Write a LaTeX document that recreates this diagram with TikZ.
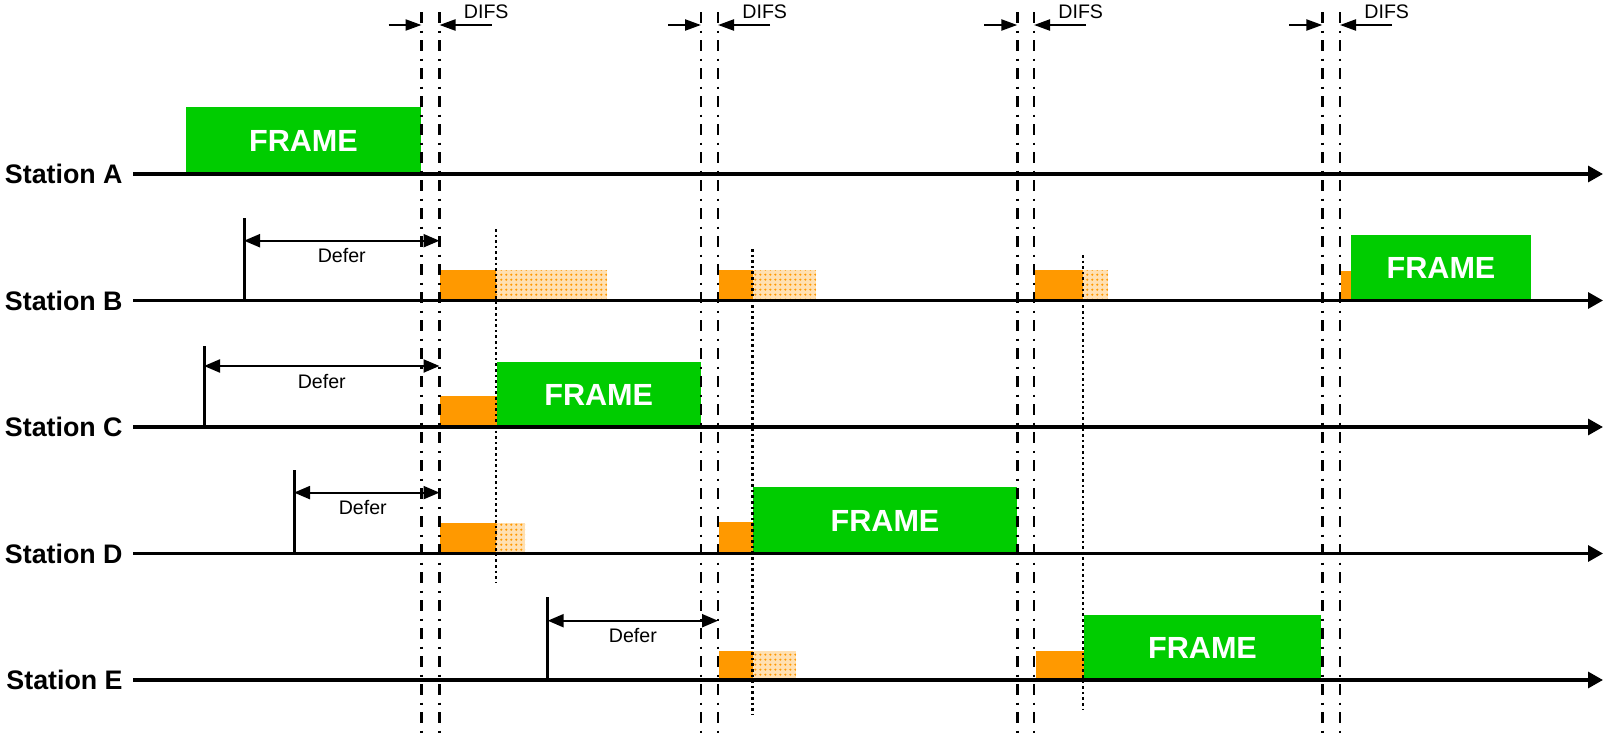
\documentclass[tikz,border=0pt]{standalone}
\usepackage{fontspec}
\setmainfont{Liberation Sans}
\usetikzlibrary{arrows.meta,patterns.meta}
\definecolor{framegreen}{RGB}{0,204,0}
\definecolor{boorange}{RGB}{255,153,0}
% fine dot lattice for the residual backoff time
\tikzdeclarepattern{
  name=bodots, type=uncolored,
  bounding box={(0,0) and (2.4pt,2.4pt)},
  tile size={(2.4pt,2.4pt)},
  code={\fill (1.2pt,1.2pt) circle (0.6pt);}
}
\begin{document}
\begin{tikzpicture}[x=0.5pt,y=-0.5pt,
  station/.style={font=\fontsize{13.4}{15}\selectfont\bfseries, anchor=east, inner sep=0pt},
  frametext/.style={font=\fontsize{15.3}{18}\selectfont\bfseries, text=white, inner sep=0pt},
  smalltext/.style={font=\fontsize{9.8}{12}\selectfont, inner sep=0pt},
  axis/.style={line width=1.6pt, -{Triangle[length=7.5pt,width=8pt]}},
  slot/.style={line width=1.35pt, dash pattern=on 5.5pt off 3.75pt on 1pt off 3.75pt},
  marker/.style={line width=1.3pt, dash pattern=on 1.3pt off 1.5pt},
  deferarrow/.style={line width=1.1pt, {Triangle[length=8pt,width=6.5pt]}-{Triangle[length=8pt,width=6.5pt]}},
  difsarrow/.style={line width=1.1pt, -{Triangle[length=8pt,width=5.5pt]}},
  tick/.style={line width=1.5pt},
  framebox/.style={fill=framegreen},
  backoff/.style={fill=boorange},
  remain/.style={preaction={fill=boorange!30}, pattern=bodots, pattern color=boorange}
]
\useasboundingbox (0,0) rectangle (1606,734);

% ---- transmitted frames ----
\fill[framebox] (186,107) rectangle (421,174);
\node[frametext] (fa) at (303.5,141) {FRAME};
\fill[framebox] (1351,235) rectangle (1531,300.5);
\node[frametext] (fb) at (1441,268) {FRAME};
\fill[framebox] (496.5,361.5) rectangle (701,427);
\node[frametext] (fc) at (598.75,394.5) {FRAME};
\fill[framebox] (753,487) rectangle (1017,553.5);
\node[frametext] (fd) at (885,520.5) {FRAME};
\fill[framebox] (1084,614.5) rectangle (1321,680);
\node[frametext] (fe) at (1202.5,647.5) {FRAME};

% ---- elapsed backoff (solid) and remaining backoff (dotted) ----
\fill[backoff] (440,270) rectangle (496,300.5);
\fill[remain]  (496,270) rectangle (607,300.5);
\fill[backoff] (719,270) rectangle (753,300.5);
\fill[remain]  (753,270) rectangle (816,300.5);
\fill[backoff] (1035,270) rectangle (1083,300.5);
\fill[remain]  (1083,270) rectangle (1108,300.5);
\fill[backoff] (1341,271) rectangle (1351,300.5);

\fill[backoff] (440,396) rectangle (496.5,427);

\fill[backoff] (440,523) rectangle (496,553.5);
\fill[remain]  (496,523) rectangle (525,553.5);
\fill[backoff] (719,522) rectangle (753,553.5);

\fill[backoff] (719,651) rectangle (753,680);
\fill[remain]  (753,651) rectangle (796,680);
\fill[backoff] (1036,651) rectangle (1084,680);

% ---- station time lines ----
\foreach \name/\lbl/\yy in {sa/A/174, sb/B/300.5, sc/C/427, sd/D/553.5, se/E/680}{
  \node[station] (\name) at (123,\yy) {Station \lbl};
  \coordinate (\name s) at (133,\yy);
  \coordinate (\name e) at (1603,\yy);
  \draw[axis] (\name s) -- (\name e);
}

% ---- DIFS boundaries ----
\foreach \xa/\xb [count=\i] in {421.5/439.5, 701/718, 1017.3/1034, 1322.3/1340}{
  \coordinate (la\i) at (\xa,12);
  \coordinate (lb\i) at (\xb,12);
  \draw[slot] (la\i) -- (\xa,734);
  \draw[slot] (lb\i) -- (\xb,734);
  \coordinate (da\i) at (\xa-33,25);
  \coordinate (db\i) at (\xb+52,25);
  \draw[difsarrow] (da\i) -- (\xa,25);
  \draw[difsarrow] (db\i) -- (\xb,25);
  \node[smalltext, anchor=base west] (difs\i) at (\xb+24,18.5) {DIFS};
}

% ---- backoff slot markers ----
\coordinate (m1t) at (496,229);   \coordinate (m1b) at (496,582);
\coordinate (m2t) at (752.5,249); \coordinate (m2b) at (752.5,714);
\coordinate (m3t) at (1083,255);  \coordinate (m3b) at (1083,710);
\draw[marker] (m1t) -- (m1b);
\draw[marker] (m2t) -- (m2b);
\draw[marker] (m3t) -- (m3b);

% ---- defer intervals ----
\foreach \name/\xs/\top/\ay/\xe in {b/244/218/240.7/439.5, c/204/346/366/439.5, d/294/470/492.6/439.5, e/547.7/597/620.7/718}{
  \coordinate (t\name) at (\xs,\top);
  \coordinate (a\name) at (\xs,\ay);
  \coordinate (z\name) at (\xe,\ay);
}
\draw[tick] (tb) -- (244,300.5);
\draw[tick] (tc) -- (204,427);
\draw[tick] (td) -- (294,553.5);
\draw[tick] (te) -- (547.7,680);
\draw[deferarrow] (ab) -- (zb) node[smalltext, midway, yshift=-7.5pt] (deferb) {Defer};
\draw[deferarrow] (ac) -- (zc) node[smalltext, midway, yshift=-7.5pt] (deferc) {Defer};
\draw[deferarrow] (ad) -- (zd) node[smalltext, midway, yshift=-7.5pt, xshift=-2pt] (deferd) {Defer};
\draw[deferarrow] (ae) -- (ze) node[smalltext, midway, yshift=-7.5pt] (defere) {Defer};
\end{tikzpicture}
\end{document}
